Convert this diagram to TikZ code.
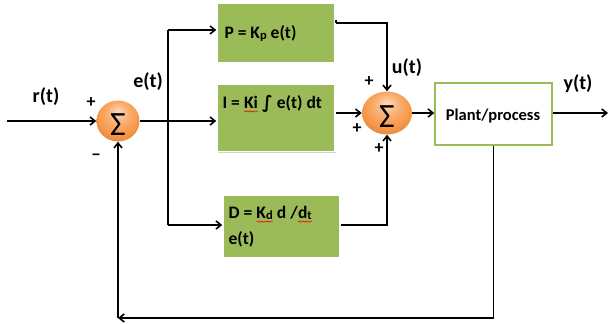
\documentclass[tikz,border=0pt]{standalone}
\usepackage{fontspec}
\setmainfont{Carlito}
\newfontfamily\dejavu{DejaVu Sans}
\usetikzlibrary{arrows.meta,shapes.geometric,shadows,decorations.pathmorphing}
\definecolor{boxgreen}{HTML}{9BBB59}
\definecolor{ballorange}{HTML}{F79646}
\pgfdeclareradialshading{orangeball}{\pgfqpoint{0bp}{12bp}}{color(0bp)=(ballorange!35!white); color(12bp)=(ballorange!75!white); color(24bp)=(ballorange); color(32bp)=(ballorange!90!black); color(50bp)=(ballorange!70!black)}
\newcommand{\redwave}[1]{\tikz[baseline=(wv.base)]{\node[inner sep=0pt,outer sep=0pt,anchor=base] (wv) {#1};
  \draw[red,line width=0.5pt,decorate,decoration={snake,amplitude=0.6pt,segment length=2.4pt}] ([yshift=-2.8pt]wv.base west) -- ([yshift=-2.8pt]wv.base east);}}
\newcommand{\smallsub}[1]{\raisebox{-1pt}{\fontsize{12.5}{12.5}\selectfont #1}}
\tikzset{
  arr/.style={line width=1.6pt,-{Straight Barb[length=5pt,width=8pt]}},
  ln/.style={line width=1.6pt},
  gbox/.style={rectangle,fill=boxgreen,draw=white,line width=1.5pt,
    drop shadow={opacity=0.35,shadow xshift=1.2pt,shadow yshift=-1.2pt}},
  sumball/.style={ellipse,shading=orangeball,inner sep=0pt},
  sig/.style={font=\fontsize{34}{34}\selectfont},
  lbl/.style={font=\fontsize{20}{22}\selectfont\bfseries},
  sgn/.style={font=\fontsize{18}{18}\selectfont\bfseries},
  btxt/.style={font=\fontsize{17.5}{26}\selectfont\bfseries,anchor=west,align=left}
}
\begin{document}
\begin{tikzpicture}[x=1pt,y=-1pt]
\useasboundingbox (0,0) rectangle (608,324);
% nodes
\node[sumball,minimum width=43pt,minimum height=41pt] (sum1) at (118,121) {};
\node[sig] (s1) at (118,125) {Σ};
\node[sumball,minimum width=50pt,minimum height=43pt] (sum2) at (387,113) {};
\node[sig] (s2) at (387,117) {Σ};
\node[gbox,minimum width=118pt,minimum height=60pt] (P) at (276,33) {};
\node[gbox,minimum width=118pt,minimum height=67pt] (I) at (276,118) {};
\node[gbox,minimum width=117pt,minimum height=63pt] (D) at (281.5,226.5) {};
\node[rectangle,draw=boxgreen,line width=1.5pt,fill=white,minimum width=117pt,minimum height=62pt] (plant) at (493.5,114) {};
% box texts
\node[btxt] (Pt) at (221,33) {P = K\smallsub{p} e(t)};
\node[btxt] (It) at (219,104) {I = \redwave{Ki} {\dejavu ∫} e(t) dt};
\node[btxt] (Dt) at (225,227) {D = \redwave{K\smallsub{d}} d /\redwave{d\smallsub{t}}\\e(t)};
\node[font=\fontsize{16.5}{18}\selectfont\bfseries] (Plt) at (493,116) {Plant/process};
% coordinates
\coordinate (in) at (7,121);
\coordinate (bt) at (168,30);
\coordinate (bb) at (168,225);
\coordinate (pout) at (336,23);
\coordinate (yout) at (608,113);
\coordinate (fb1) at (493.5,318);
\coordinate (fb2) at (118,318);
% connectors
\draw[arr] (in) -- (sum1.west);
\draw[arr] (sum1.east) -- (sum1.east -| I.west);
\draw[ln] (bt) -- (bb);
\draw[arr] (bt) -- (bt -| P.west);
\draw[arr] (bb) -- (bb -| D.west);
\draw[ln] (pout) -- ++(0,-3);
\draw[arr] (pout) -| (sum2.north);
\draw[arr] (sum2.west -| I.east) -- (sum2.west);
\draw[arr] (D.east |- bb) -| (sum2.south);
\draw[arr] (sum2.east) -- (sum2.east -| plant.west);
\draw[arr] (plant.east |- yout) -- (yout);
\draw[arr] (plant.south) -- (fb1) -- (fb2);
\draw[arr] (fb2) -- (sum1.south);
% labels
\node[lbl] (rt) at (46,97) {r(t)};
\node[lbl] (et) at (148,82) {e(t)};
\node[lbl] (ut) at (407,68) {u(t)};
\node[lbl] (yt) at (578,84) {y(t)};
\node[sgn] (p1) at (91,103) {+};
\node[sgn] (m1) at (96,157) {−};
\node[sgn] (p2) at (369,82) {+};
\node[sgn] (p3) at (357,129) {+};
\node[sgn] (p4) at (379,149) {+};
\end{tikzpicture}
\end{document}
